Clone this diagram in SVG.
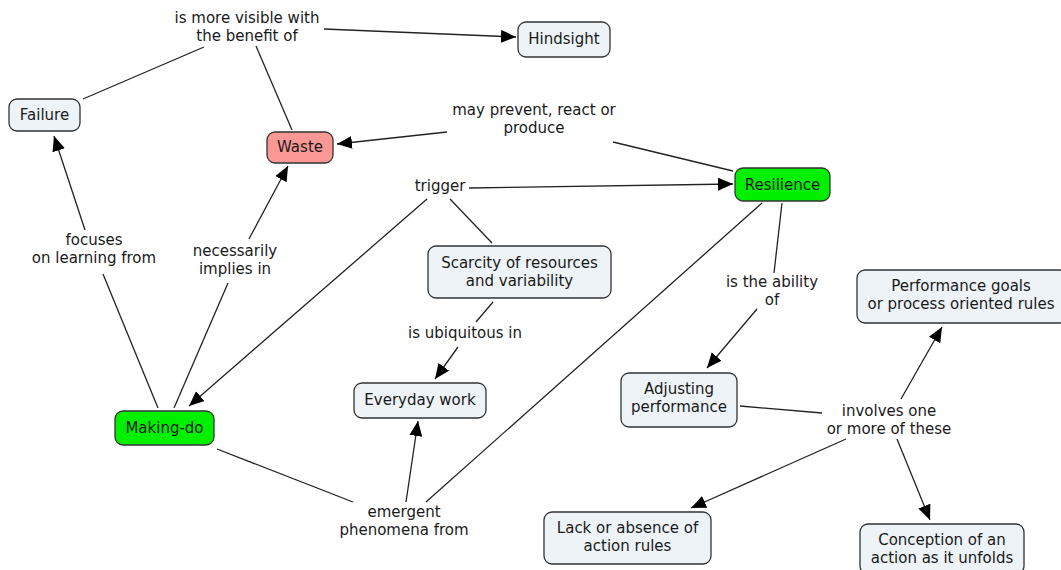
<svg xmlns="http://www.w3.org/2000/svg" width="1061" height="570" viewBox="0 0 1061 570">
<style>
text{font-family:"DejaVu Sans","Verdana",sans-serif;font-size:15px;fill:#1a1a1a;text-anchor:middle}
.n{fill:#edf3f6;stroke:#333;stroke-width:1.3}
.g{fill:#00f000;stroke:#333;stroke-width:1.3}
.r{fill:#fa9896;stroke:#333;stroke-width:1.3}
.c line{stroke:#222;stroke-width:1.3}
.a{marker-end:url(#ah)}
</style>
<defs>
<marker id="ah" markerUnits="userSpaceOnUse" markerWidth="16" markerHeight="14" refX="15" refY="6.5" orient="auto">
<path d="M0,0 L15,6.5 L0,13 z" fill="#000"/>
</marker>
</defs>
<rect width="1061" height="570" fill="#fff"/>
<g class="c" id="connectors">
<line x1="292" y1="130" x2="256" y2="46"/>
<line x1="83" y1="99" x2="204" y2="47"/>
<line class="a" x1="324" y1="29" x2="516" y2="37"/>
<line x1="733" y1="171" x2="613" y2="142"/>
<line class="a" x1="447" y1="132" x2="337" y2="144"/>
<line class="a" x1="427" y1="199" x2="189" y2="406"/>
<line class="a" x1="469" y1="188" x2="733" y2="184"/>
<line x1="492" y1="243" x2="450" y2="199"/>
<line x1="493" y1="302" x2="476" y2="322"/>
<line class="a" x1="458" y1="347" x2="435" y2="379"/>
<line x1="158" y1="408" x2="103" y2="274"/>
<line class="a" x1="85" y1="230" x2="54" y2="136"/>
<line x1="174" y1="408" x2="228" y2="283"/>
<line class="a" x1="249" y1="239" x2="288" y2="166"/>
<line x1="217" y1="449" x2="353" y2="502"/>
<line class="a" x1="406" y1="502" x2="418" y2="421"/>
<line x1="762" y1="203" x2="426" y2="502"/>
<line x1="782" y1="203" x2="774" y2="273"/>
<line class="a" x1="757" y1="309" x2="707" y2="368"/>
<line x1="740" y1="406" x2="822" y2="413"/>
<line class="a" x1="901" y1="399" x2="942" y2="327"/>
<line class="a" x1="846" y1="439" x2="691" y2="508"/>
<line class="a" x1="897" y1="439" x2="930" y2="520"/>
</g>
<g id="lbl-visible"><text x="247" y="23">is more visible with</text><text x="247" y="41">the benefit of</text></g>
<g id="lbl-prevent"><text x="534" y="115">may prevent, react or</text><text x="534" y="133">produce</text></g>
<g id="lbl-trigger"><text x="440" y="191">trigger</text></g>
<g id="lbl-focuses"><text x="94" y="245">focuses</text><text x="94" y="263">on learning from</text></g>
<g id="lbl-implies"><text x="235" y="256">necessarily</text><text x="235" y="274">implies in</text></g>
<g id="lbl-ubiq"><text x="465" y="338">is ubiquitous in</text></g>
<g id="lbl-ability"><text x="772" y="287">is the ability</text><text x="772" y="305">of</text></g>
<g id="lbl-involves"><text x="889" y="416">involves one</text><text x="889" y="434">or more of these</text></g>
<g id="lbl-emergent"><text x="404" y="517">emergent</text><text x="404" y="535">phenomena from</text></g>
<g id="failure"><rect class="n" x="9" y="99" width="71" height="32" rx="8"/><text x="44.5" y="120">Failure</text></g>
<g id="waste"><rect class="r" x="267" y="132" width="66" height="31" rx="8"/><text x="300" y="152">Waste</text></g>
<g id="hindsight"><rect class="n" x="518" y="22" width="92" height="35" rx="8"/><text x="564" y="44">Hindsight</text></g>
<g id="resilience"><rect class="g" x="735" y="168" width="95" height="33" rx="8"/><text x="782.5" y="190">Resilience</text></g>
<g id="scarcity"><rect class="n" x="428" y="246" width="183" height="52" rx="8"/><text x="519.5" y="268">Scarcity of resources</text><text x="519.5" y="286">and variability</text></g>
<g id="everyday"><rect class="n" x="354" y="383" width="132" height="35" rx="8"/><text x="420" y="405">Everyday work</text></g>
<g id="makingdo"><rect class="g" x="115" y="411" width="99" height="34" rx="8"/><text x="164.5" y="433">Making-do</text></g>
<g id="adjusting"><rect class="n" x="621" y="373" width="116" height="54" rx="8"/><text x="679" y="394">Adjusting</text><text x="679" y="412">performance</text></g>
<g id="perfgoals"><rect class="n" x="857" y="270" width="210" height="53" rx="8"/><text x="961" y="291">Performance goals</text><text x="961" y="309">or process oriented rules</text></g>
<g id="lack"><rect class="n" x="544" y="512" width="167" height="52" rx="8"/><text x="627.5" y="533">Lack or absence of</text><text x="627.5" y="551">action rules</text></g>
<g id="conception"><rect class="n" x="860" y="524" width="164" height="50" rx="8"/><text x="942" y="545">Conception of an</text><text x="942" y="563">action as it unfolds</text></g>
</svg>
